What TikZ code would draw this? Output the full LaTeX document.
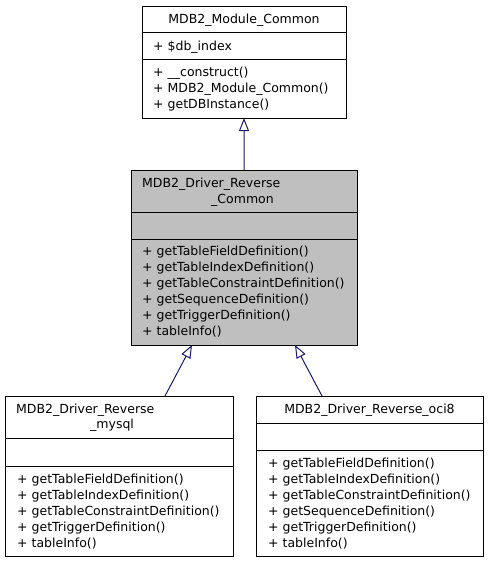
\documentclass[tikz,border=0pt]{standalone}
\usepackage{fontspec}
\setmainfont{DejaVu Sans}
\usetikzlibrary{arrows.meta}
\definecolor{edgeblue}{HTML}{191970}
\definecolor{boxgray}{HTML}{BFBFBF}
\begin{document}
\begin{tikzpicture}[x=1bp,y=-1bp,
  box/.style={draw=black, line width=1bp, inner sep=0pt, outer sep=0pt, rectangle, anchor=north west},
  sepline/.style={draw=black, line width=1bp},
  txt/.style={anchor=base west, inner sep=0pt, font=\fontsize{12.5bp}{15bp}\selectfont},
  ttl/.style={anchor=base, inner sep=0pt, font=\fontsize{12.5bp}{15bp}\selectfont},
  inh/.style={draw=edgeblue, line width=1bp, -{Triangle[open, length=13bp, width=10bp]}}
]
\useasboundingbox (0,0) rectangle (488,563);
% boxes
\node[box, minimum width=204bp, minimum height=111bp] (common) at (142,7) {};
\node[box, fill=boxgray, minimum width=226bp, minimum height=175bp] (rc) at (131,170) {};
\node[box, minimum width=228bp, minimum height=160bp] (mysql) at (5,396) {};
\node[box, minimum width=227bp, minimum height=160bp] (oci) at (256,396) {};
% dividers
\draw[sepline] (142,33) -- (346,33);
\draw[sepline] (142,60) -- (346,60);
\draw[sepline] (131,212) -- (357,212);
\draw[sepline] (131,239) -- (357,239);
\draw[sepline] (5,438) -- (233,438);
\draw[sepline] (5,466) -- (233,466);
\draw[sepline] (256,423) -- (483,423);
\draw[sepline] (256,450) -- (483,450);
% common texts
\node[ttl] (ct) at (244,24) {MDB2\_Module\_Common};
\node[txt] (ca) at (153,51) {+ \$db\_index};
\node[txt] (cm1) at (153,76.7) {+ \_\_construct()};
\node[txt] (cm2) at (153,92.7) {+ MDB2\_Module\_Common()};
\node[txt] (cm3) at (153,108.7) {+ getDBInstance()};
% rc texts
\node[txt] (rt1) at (142,187.3) {MDB2\_Driver\_Reverse};
\node[txt] (rt2) at (211,203.3) {\_Common};
\node[txt] (r1) at (142,255.3) {+ getTableFieldDefinition()};
\node[txt] (r2) at (142,271.3) {+ getTableIndexDefinition()};
\node[txt] (r3) at (142,287.3) {+ getTableConstraintDefinition()};
\node[txt] (r4) at (142,303.3) {+ getSequenceDefinition()};
\node[txt] (r5) at (142,319.3) {+ getTriggerDefinition()};
\node[txt] (r6) at (142,335.3) {+ tableInfo()};
% mysql texts
\node[txt] (mt1) at (16,413.3) {MDB2\_Driver\_Reverse};
\node[txt] (mt2) at (90,428.3) {\_mysql};
\node[txt] (m1) at (17,483.3) {+ getTableFieldDefinition()};
\node[txt] (m2) at (17,499.3) {+ getTableIndexDefinition()};
\node[txt] (m3) at (17,515.3) {+ getTableConstraintDefinition()};
\node[txt] (m4) at (17,531.3) {+ getTriggerDefinition()};
\node[txt] (m5) at (17,547.3) {+ tableInfo()};
% oci8 texts
\node[ttl] (ot) at (369.5,413.3) {MDB2\_Driver\_Reverse\_oci8};
\node[txt] (o1) at (268,467.3) {+ getTableFieldDefinition()};
\node[txt] (o2) at (268,483.3) {+ getTableIndexDefinition()};
\node[txt] (o3) at (268,499.3) {+ getTableConstraintDefinition()};
\node[txt] (o4) at (268,515.3) {+ getSequenceDefinition()};
\node[txt] (o5) at (268,531.3) {+ getTriggerDefinition()};
\node[txt] (o6) at (268,547.3) {+ tableInfo()};
% connectors
\coordinate (rcL) at (192,345);
\coordinate (rcR) at (295,345);
\coordinate (myT) at (165,396);
\coordinate (ocT) at (322,396);
\draw[inh] (rc.north) -- (common.south);
\draw[inh] (myT) -- (rcL);
\draw[inh] (ocT) -- (rcR);
\end{tikzpicture}
\end{document}
